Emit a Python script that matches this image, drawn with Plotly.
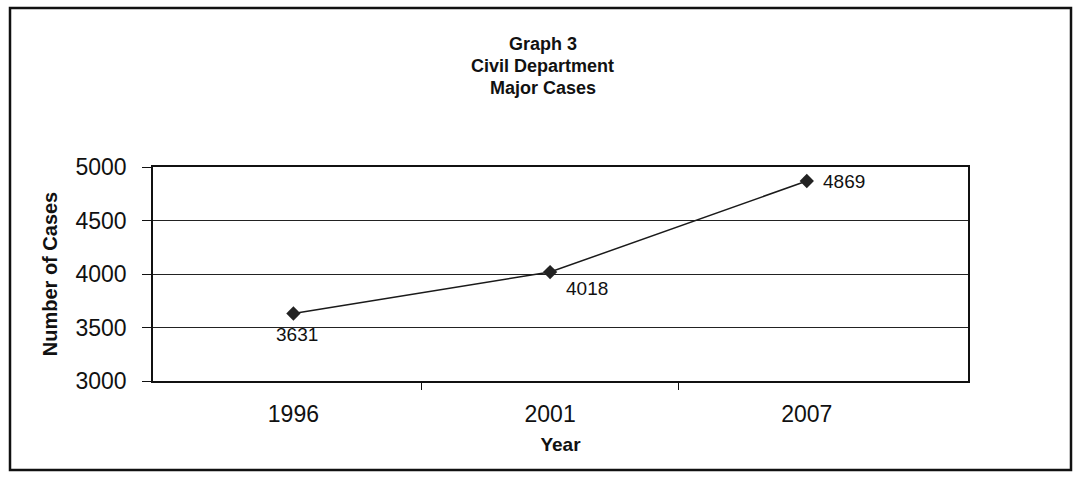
import plotly.graph_objects as go

# Civil Department major cases by year
years = ["1996", "2001", "2007"]
cases = [3631, 4018, 4869]
y_ticks = [3000, 3500, 4000, 4500, 5000]
title_lines = ["Graph 3", "Civil Department", "Major Cases"]

FONT = "Arial, Liberation Sans, sans-serif"
INK = "#111111"

# category slots along x (one per year)
slots = list(range(len(years)))
bounds = [s + 0.5 for s in slots[:-1]]

fig = go.Figure()
fig.add_trace(go.Scatter(
    x=slots, y=cases, mode="lines+markers",
    line=dict(color="#1a1a1a", width=1.5),
    marker=dict(symbol="diamond", size=11, color="#222222"),
    hoverinfo="skip", showlegend=False,
))

# value labels beside each point
label_pos = [
    dict(xanchor="center", yanchor="top", xshift=4, yshift=-9),
    dict(xanchor="left", yanchor="top", xshift=14, yshift=-4),
    dict(xanchor="left", yanchor="middle", xshift=14, yshift=0),
]
for s, v, p in zip(slots, cases, label_pos):
    fig.add_annotation(x=s, y=v, text=str(v), showarrow=False,
                       font=dict(family=FONT, size=19, color=INK), **p)

# plot area in pixels
M_L, M_R, M_T, M_B = 153, 108, 167, 96
W, H = 1076, 477
plot_w = W - M_L - M_R
plot_h = H - M_T - M_B

# stacked title lines (pixel rows converted to paper units)
for i, t in enumerate(title_lines):
    py = 44 + 22 * i
    fig.add_annotation(x=0.478, xref="paper", y=1 + (M_T - py) / plot_h, yref="paper",
                       text=f"<b>{t}</b>", showarrow=False, xanchor="center",
                       yanchor="middle",
                       font=dict(family=FONT, size=18, color=INK))

fig.update_layout(
    width=W, height=H,
    margin=dict(l=M_L, r=M_R, t=M_T, b=M_B),
    paper_bgcolor="white", plot_bgcolor="white",
    font=dict(family=FONT, color=INK),
    xaxis=dict(
        range=[-0.547, 2.628],
        tickmode="array", tickvals=slots, ticktext=years,
        ticks="", ticklabelstandoff=12,
        showgrid=False, zeroline=False,
        showline=True, linecolor=INK, linewidth=1.5, mirror=True,
        minor=dict(tickmode="array", tickvals=bounds, ticks="outside",
                   ticklen=7, tickcolor=INK, tickwidth=1.2, showgrid=False),
        tickfont=dict(size=23, family=FONT),
        title=dict(text="<b>Year</b>", font=dict(size=19, family=FONT), standoff=11),
    ),
    yaxis=dict(
        range=[3000, 5000], tickvals=y_ticks,
        showgrid=True, gridcolor="#222222", gridwidth=1.2,
        showline=True, linecolor=INK, linewidth=1.5, mirror=True,
        ticks="outside", ticklen=9, tickcolor=INK,
        ticklabelstandoff=11,
        tickfont=dict(size=23, family=FONT),
        title=dict(text="<b>Number of Cases</b>", font=dict(size=20, family=FONT), standoff=12),
        zeroline=False,
    ),
)

# outer chart border
fig.add_shape(type="rect", xref="paper", yref="paper",
              x0=(10 - M_L) / plot_w, x1=(1071 - M_L) / plot_w,
              y0=-(470 - (H - M_B)) / plot_h, y1=1 + (M_T - 8) / plot_h,
              line=dict(color=INK, width=2.5))

fig.write_html("out.html")
